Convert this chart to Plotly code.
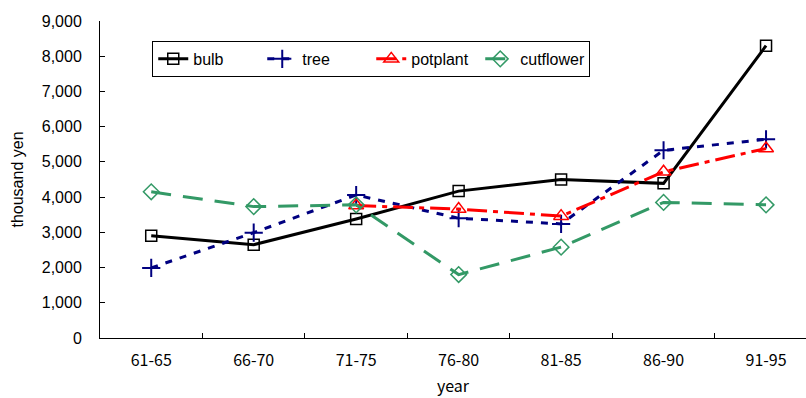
import plotly.graph_objects as go

categories = ["61-65", "66-70", "71-75", "76-80", "81-85", "86-90", "91-95"]
bulb = [2900, 2650, 3380, 4170, 4500, 4390, 8300]
tree = [1990, 2990, 4060, 3400, 3240, 5330, 5640]
potplant = [None, None, 3760, 3660, 3460, 4720, 5380]
cutflower = [4150, 3730, 3780, 1800, 2580, 3850, 3780]

fig = go.Figure()
fig.add_trace(go.Scatter(x=categories, y=bulb, name="bulb", mode="lines+markers",
                         line=dict(color="black", width=3),
                         marker=dict(symbol="square-open", size=11, color="black", line=dict(width=1.5))))
fig.add_trace(go.Scatter(x=categories, y=tree, name="tree", mode="lines+markers",
                         line=dict(color="#000080", width=3, dash="7px,8px"),
                         marker=dict(symbol="cross-thin-open", size=13, color="#000080", line=dict(width=2, color="#000080"))))
fig.add_trace(go.Scatter(x=categories, y=potplant, name="potplant", mode="lines+markers",
                         line=dict(color="#FF0000", width=3, dash="20px,6px,5px,6px"),
                         marker=dict(symbol="triangle-up-open", size=13, color="#FF0000", line=dict(width=1.5))))
fig.add_trace(go.Scatter(x=categories, y=cutflower, name="cutflower", mode="lines+markers",
                         line=dict(color="#339966", width=3, dash="20px,12px"),
                         marker=dict(symbol="diamond-open", size=12, color="#339966", line=dict(width=1.5))))

fig.update_layout(
    width=806, height=398,
    margin=dict(l=100, r=0, t=21, b=60),
    paper_bgcolor="white", plot_bgcolor="white",
    font=dict(family="Liberation Sans, Arial, sans-serif", size=15, color="black"),
    legend=dict(orientation="h", x=0.074, y=0.937, xanchor="left", yanchor="top",
                bordercolor="black", borderwidth=1, bgcolor="white",
                font=dict(size=16), itemwidth=30, entrywidth=64, entrywidthmode="pixels"),
    xaxis=dict(type="category", range=[-0.5, 6.39], showline=True, linecolor="black", linewidth=1,
               ticks="inside", ticklen=5, tickcolor="black", tickson="boundaries",
               showgrid=False, ticklabelstandoff=8,
               tickfont=dict(family="Noto Sans CJK JP, sans-serif", size=16),
               title=dict(text="year", font=dict(family="Noto Sans CJK JP, sans-serif", size=16), standoff=10)),
    yaxis=dict(range=[0, 9000], dtick=1000, tickformat=",", showline=True, linecolor="black", linewidth=1,
               ticks="inside", ticklen=5, tickcolor="black", showgrid=False, zeroline=False,
               ticklabelstandoff=14, tickfont=dict(size=16),
               title=dict(text="thousand yen", font=dict(size=16), standoff=14)),
)

fig.write_html("out.html")
